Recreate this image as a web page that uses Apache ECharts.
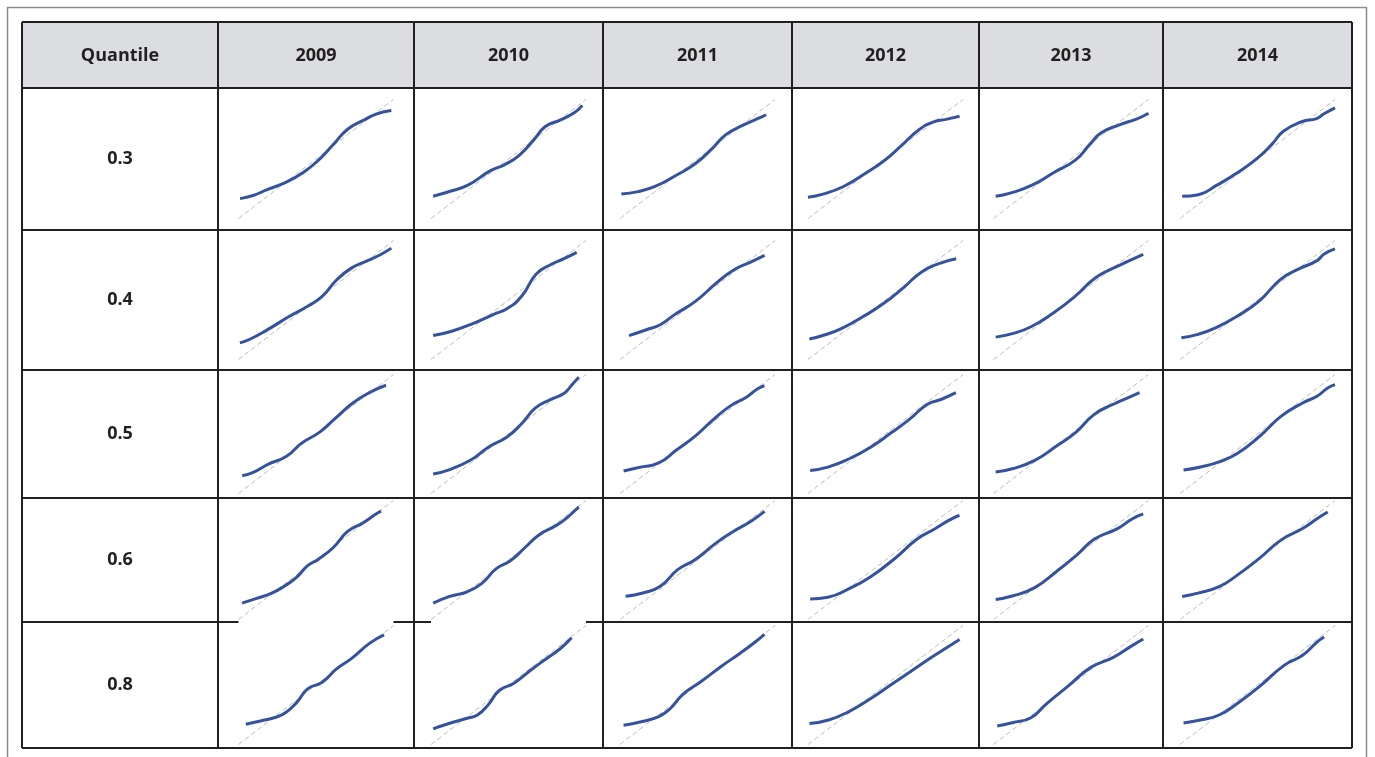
<!DOCTYPE html>
<html><head><meta charset="utf-8">
<script src="https://cdn.jsdelivr.net/npm/echarts@6/dist/echarts.min.js"></script>
<style>html,body{margin:0;padding:0;background:#fff}#c{width:1375px;height:757px}</style>
</head><body><div id="c"></div>
<script>
// ---- data ----
const headerLabel = 'Quantile';
const years = ['2009', '2010', '2011', '2012', '2013', '2014'];
const quantiles = ['0.3', '0.4', '0.5', '0.6', '0.8'];
const referenceLine = [[0, 0], [1, 1]];

// QQ points [theoretical, sample] (normalised to the reference line extent)
const q30_2009 = [[0.01,0.167],[0.094,0.193],[0.188,0.245],[0.305,0.303],[0.42,0.389],[0.516,0.49],[0.61,0.62],[0.704,0.75],[0.798,0.82],[0.892,0.879],[0.986,0.908]];
const q30_2010 = [[0.014,0.187],[0.119,0.227],[0.238,0.28],[0.381,0.40],[0.476,0.453],[0.571,0.533],[0.667,0.667],[0.738,0.773],[0.833,0.827],[0.929,0.893],[0.976,0.95]];
const q30_2011 = [[0.009,0.205],[0.117,0.226],[0.226,0.269],[0.357,0.359],[0.487,0.462],[0.596,0.59],[0.683,0.705],[0.791,0.782],[0.922,0.859],[0.943,0.872]];
const q30_2012 = [[0,0.179],[0.097,0.205],[0.229,0.269],[0.361,0.372],[0.493,0.487],[0.604,0.615],[0.714,0.744],[0.802,0.808],[0.89,0.833],[0.978,0.859]];
const q30_2013 = [[0.014,0.187],[0.108,0.213],[0.249,0.28],[0.39,0.387],[0.53,0.493],[0.624,0.627],[0.695,0.72],[0.812,0.787],[0.93,0.84],[1.0,0.885]];
const q30_2014 = [[0.014,0.187],[0.119,0.2],[0.238,0.28],[0.357,0.373],[0.5,0.507],[0.595,0.627],[0.667,0.733],[0.786,0.813],[0.881,0.84],[0.929,0.88],[1.0,0.93]];

const q40_2009 = [[0.009,0.14],[0.07,0.168],[0.188,0.251],[0.329,0.363],[0.446,0.447],[0.54,0.53],[0.634,0.67],[0.728,0.768],[0.822,0.824],[0.915,0.88],[0.986,0.936]];
const q40_2010 = [[0.014,0.201],[0.128,0.235],[0.266,0.30],[0.404,0.379],[0.495,0.431],[0.587,0.535],[0.679,0.718],[0.771,0.796],[0.862,0.849],[0.94,0.9]];
const q40_2011 = [[0.058,0.2],[0.17,0.25],[0.26,0.292],[0.35,0.375],[0.484,0.486],[0.619,0.639],[0.731,0.75],[0.843,0.819],[0.933,0.875]];
const q40_2012 = [[0.009,0.172],[0.111,0.208],[0.222,0.264],[0.356,0.361],[0.489,0.472],[0.622,0.611],[0.733,0.736],[0.844,0.806],[0.956,0.847]];
const q40_2013 = [[0.014,0.188],[0.121,0.217],[0.242,0.275],[0.386,0.391],[0.531,0.536],[0.652,0.681],[0.773,0.768],[0.87,0.826],[0.966,0.884]];
const q40_2014 = [[0.009,0.183],[0.116,0.211],[0.233,0.268],[0.372,0.366],[0.512,0.493],[0.651,0.676],[0.767,0.761],[0.884,0.831],[0.93,0.887],[1.0,0.93]];

const q50_2009 = [[0.024,0.149],[0.095,0.177],[0.19,0.245],[0.31,0.313],[0.405,0.421],[0.524,0.516],[0.619,0.625],[0.738,0.761],[0.857,0.856],[0.952,0.91]];
const q50_2010 = [[0.014,0.164],[0.116,0.199],[0.256,0.281],[0.372,0.391],[0.488,0.473],[0.581,0.582],[0.674,0.719],[0.767,0.787],[0.86,0.842],[0.907,0.91],[0.953,0.978]];
const q50_2011 = [[0.023,0.189],[0.114,0.216],[0.25,0.257],[0.364,0.365],[0.477,0.473],[0.591,0.608],[0.705,0.73],[0.818,0.811],[0.886,0.878],[0.932,0.905]];
const q50_2012 = [[0.014,0.194],[0.128,0.222],[0.266,0.292],[0.404,0.389],[0.541,0.514],[0.656,0.625],[0.771,0.75],[0.862,0.792],[0.954,0.847]];
const q50_2013 = [[0.014,0.181],[0.121,0.208],[0.266,0.278],[0.411,0.403],[0.531,0.514],[0.652,0.667],[0.773,0.75],[0.87,0.806],[0.942,0.847]];
const q50_2014 = [[0.023,0.197],[0.14,0.225],[0.256,0.268],[0.372,0.338],[0.512,0.479],[0.651,0.648],[0.791,0.761],[0.884,0.817],[0.953,0.887],[1.0,0.915]];

const q60_2009 = [[0.023,0.137],[0.117,0.178],[0.211,0.219],[0.305,0.288],[0.376,0.356],[0.446,0.452],[0.516,0.507],[0.61,0.603],[0.704,0.74],[0.798,0.808],[0.892,0.89],[0.92,0.91]];
const q60_2010 = [[0.014,0.137],[0.116,0.192],[0.233,0.233],[0.326,0.301],[0.419,0.425],[0.512,0.493],[0.605,0.603],[0.698,0.712],[0.814,0.795],[0.884,0.863],[0.953,0.945]];
const q60_2011 = [[0.036,0.196],[0.148,0.223],[0.26,0.279],[0.372,0.419],[0.484,0.503],[0.619,0.642],[0.731,0.74],[0.843,0.824],[0.933,0.908]];
const q60_2012 = [[0.014,0.172],[0.128,0.187],[0.266,0.259],[0.404,0.359],[0.564,0.517],[0.702,0.675],[0.817,0.761],[0.908,0.833],[0.977,0.876]];
const q60_2013 = [[0.014,0.169],[0.121,0.197],[0.266,0.268],[0.411,0.408],[0.531,0.535],[0.652,0.676],[0.797,0.761],[0.894,0.845],[0.966,0.887]];
const q60_2014 = [[0.014,0.194],[0.116,0.222],[0.256,0.278],[0.372,0.375],[0.512,0.514],[0.651,0.667],[0.791,0.764],[0.884,0.847],[0.953,0.903]];

const q80_2009 = [[0.047,0.17],[0.141,0.198],[0.235,0.227],[0.305,0.269],[0.376,0.354],[0.446,0.467],[0.54,0.524],[0.634,0.637],[0.728,0.722],[0.845,0.85],[0.939,0.921]];
const q80_2010 = [[0.014,0.132],[0.116,0.176],[0.233,0.221],[0.302,0.25],[0.372,0.338],[0.442,0.456],[0.535,0.515],[0.651,0.632],[0.744,0.721],[0.837,0.809],[0.907,0.897]];
const q80_2011 = [[0.023,0.162],[0.136,0.191],[0.25,0.235],[0.318,0.294],[0.409,0.426],[0.523,0.529],[0.659,0.662],[0.773,0.765],[0.864,0.853],[0.932,0.926]];
const q80_2012 = [[0.009,0.176],[0.133,0.206],[0.267,0.279],[0.4,0.382],[0.533,0.5],[0.667,0.618],[0.8,0.735],[0.889,0.809],[0.978,0.882]];
const q80_2013 = [[0.024,0.155],[0.121,0.183],[0.242,0.225],[0.338,0.338],[0.483,0.493],[0.628,0.648],[0.773,0.732],[0.894,0.831],[0.966,0.887]];
const q80_2014 = [[0.023,0.181],[0.14,0.208],[0.256,0.25],[0.372,0.347],[0.512,0.486],[0.674,0.667],[0.791,0.75],[0.884,0.861],[0.93,0.903]];

const cellData = [
  [q30_2009, q30_2010, q30_2011, q30_2012, q30_2013, q30_2014],
  [q40_2009, q40_2010, q40_2011, q40_2012, q40_2013, q40_2014],
  [q50_2009, q50_2010, q50_2011, q50_2012, q50_2013, q50_2014],
  [q60_2009, q60_2010, q60_2011, q60_2012, q60_2013, q60_2014],
  [q80_2009, q80_2010, q80_2011, q80_2012, q80_2013, q80_2014]
];

// ---- layout ----
const colEdges = [22, 218, 414, 603, 792, 979, 1163, 1352];
const rowEdges = [22, 88, 230, 370, 498, 622, 748];
const plotW = 155, plotH = 119;
const lineColor = '#231f20';
const font = 'bold 18px "Open Sans", "DejaVu Sans", sans-serif';
// cells whose picture covers the border line above them: [row, col]
const coveredTopEdges = [[4, 0], [4, 1]];

const grids = [], xAxes = [], yAxes = [], series = [], graphics = [];

graphics.push({ type: 'rect', shape: { x: 7.5, y: 7.5, width: 1359, height: 790 },
  style: { fill: '#fff', stroke: '#8c8c8c', lineWidth: 1.5 }, z: 0 });
graphics.push({ type: 'rect', shape: { x: colEdges[0], y: rowEdges[0], width: colEdges[7] - colEdges[0], height: rowEdges[1] - rowEdges[0] },
  style: { fill: '#dcdde0' }, z: 1 });
colEdges.forEach(x => graphics.push({ type: 'line', shape: { x1: x, y1: rowEdges[0], x2: x, y2: rowEdges[6] },
  style: { stroke: lineColor, lineWidth: 2 }, z: 5 }));
rowEdges.forEach(y => graphics.push({ type: 'line', shape: { x1: colEdges[0], y1: y, x2: colEdges[7], y2: y },
  style: { stroke: lineColor, lineWidth: 2 }, z: 5 }));
coveredTopEdges.forEach(([r, c]) => {
  const cx = (colEdges[c + 1] + colEdges[c + 2]) / 2;
  graphics.push({ type: 'rect', shape: { x: cx - plotW / 2, y: rowEdges[r + 1] - 2, width: plotW, height: 4 },
    style: { fill: '#fff' }, z: 6 });
});

const headers = [headerLabel].concat(years);
headers.forEach((t, i) => graphics.push({ type: 'text', z: 10,
  style: { text: t, x: (colEdges[i] + colEdges[i + 1]) / 2, y: (rowEdges[0] + rowEdges[1]) / 2 + 1,
    textAlign: 'center', textVerticalAlign: 'middle', font: font, fill: lineColor } }));
quantiles.forEach((t, r) => graphics.push({ type: 'text', z: 10,
  style: { text: t, x: (colEdges[0] + colEdges[1]) / 2, y: (rowEdges[r + 1] + rowEdges[r + 2]) / 2,
    textAlign: 'center', textVerticalAlign: 'middle', font: font, fill: lineColor } }));

let gi = 0;
quantiles.forEach((q, r) => {
  years.forEach((yr, c) => {
    const cx = (colEdges[c + 1] + colEdges[c + 2]) / 2;
    const cy = (rowEdges[r + 1] + rowEdges[r + 2]) / 2;
    grids.push({ left: cx - plotW / 2, top: cy - plotH / 2, width: plotW, height: plotH, show: false });
    xAxes.push({ type: 'value', gridIndex: gi, min: 0, max: 1, show: false });
    yAxes.push({ type: 'value', gridIndex: gi, min: 0, max: 1, show: false });
    series.push({ type: 'line', xAxisIndex: gi, yAxisIndex: gi, data: referenceLine, symbol: 'none', silent: true,
      lineStyle: { color: '#bdbdbd', width: 1, type: [5, 3] }, z: 2 });
    series.push({ type: 'line', xAxisIndex: gi, yAxisIndex: gi, data: cellData[r][c], symbol: 'none', silent: true,
      smooth: 0.5, lineStyle: { color: '#2a4999', width: 3, opacity: 0.95 }, z: 3 });
    gi++;
  });
});

const chart = echarts.init(document.getElementById('c'), null, { renderer: 'canvas' });
chart.setOption({
  animation: false,
  backgroundColor: '#fff',
  graphic: { elements: graphics },
  grid: grids, xAxis: xAxes, yAxis: yAxes, series: series
});
</script></body></html>
